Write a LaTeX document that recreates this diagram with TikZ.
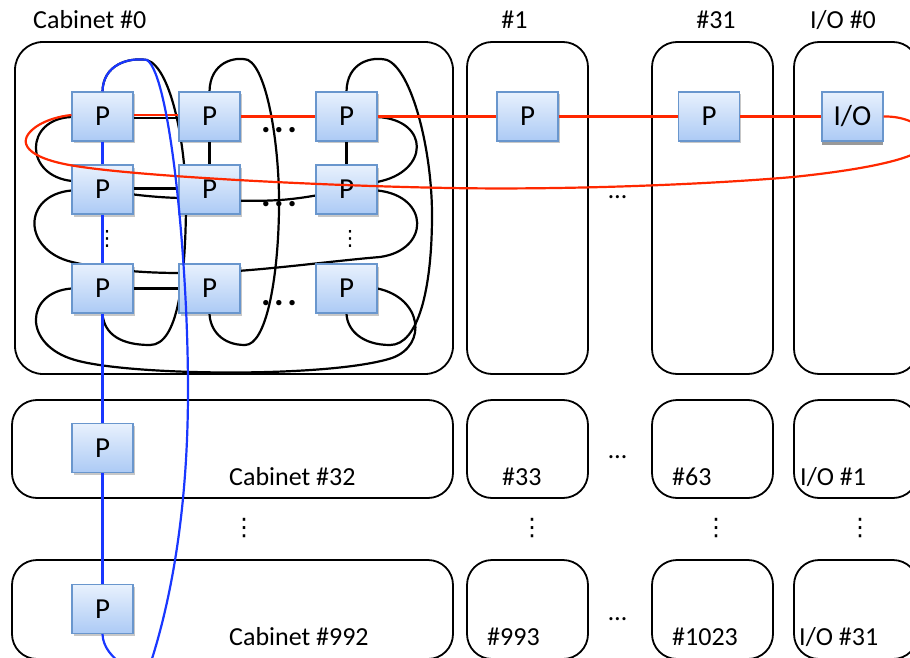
\documentclass[tikz,border=0pt]{standalone}
\usepackage{fontspec}
\setmainfont{Carlito}
\newfontfamily\symfont{DejaVu Sans}
\usetikzlibrary{shadows}
\definecolor{ptop}{RGB}{232,241,253}
\definecolor{pbot}{RGB}{172,202,245}
\definecolor{pedge}{RGB}{105,150,205}
\definecolor{ringred}{RGB}{255,40,0}
\definecolor{ringblue}{RGB}{25,55,255}
\pgfdeclarelayer{links}
\pgfsetlayers{links,main}
\begin{document}
\begin{tikzpicture}[x=1pt,y=-1pt,
  cabinet/.style={draw=black, line width=1.8pt, rounded corners=25pt},
  bigcabinet/.style={cabinet, rounded corners=28pt},
  boxbase/.style={draw=pedge, line width=1.1pt, top color=ptop, bottom color=pbot,
    minimum width=61pt, minimum height=49pt, inner sep=0pt,
    font=\fontsize{29}{30}\selectfont},
  pbox/.style={boxbase, drop shadow={shadow xshift=1.5pt, shadow yshift=-2.5pt, fill=black, opacity=0.22}},
  iobox/.style={boxbase, drop shadow={shadow xshift=0pt, shadow yshift=-4pt, fill=black!40, opacity=1}},
  link/.style={line width=2.2pt, black},
  redlink/.style={line width=2.2pt, ringred},
  bluelink/.style={line width=2.2pt, ringblue},
  lbl/.style={font=\fontsize{26}{30}\selectfont, inner sep=0pt},
  hdots/.style={font=\fontsize{26}{30}\selectfont, inner sep=0pt, anchor=base},
  bdots/.style={font=\fontsize{36}{40}\selectfont\bfseries, inner sep=0pt, anchor=base},
  vdotsnode/.style={font=\symfont\fontsize{24}{30}\selectfont, inner sep=0pt}]

\useasboundingbox (0,0) rectangle (910,658);
\clip (0,0) rectangle (910,658);

% processor grid of cabinet #0
\node[pbox] (g11) at (102.5,116.5) {P};
\node[pbox] (g12) at (209.5,116.5) {P};
\node[pbox] (g13) at (346.5,116.5) {P};
\node[pbox] (g21) at (102.5,189.5) {P};
\node[pbox] (g22) at (209.5,189.5) {P};
\node[pbox] (g23) at (346.5,189.5) {P};
\node[pbox] (g31) at (102.5,288.5) {P};
\node[pbox] (g32) at (209.5,288.5) {P};
\node[pbox] (g33) at (346.5,288.5) {P};
% first processors of the other cabinets
\node[pbox] (q1)  at (527.5,116.5) {P};
\node[pbox] (q31) at (709,116.5) {P};
\node[iobox] (io0) at (852.5,116.5) {I/O};
\node[pbox] (c32)  at (102.5,448) {P};
\node[pbox] (c992) at (102.5,609) {P};

\begin{pgfonlayer}{links}
  % cabinets
  \draw[bigcabinet] (15,42) rectangle (453,374);
  \draw[cabinet] (467,42) rectangle (588,374);
  \draw[cabinet] (652,42) rectangle (773,374);
  \draw[cabinet] (794,42) rectangle (918,374);
  \draw[cabinet] (12,400) rectangle (453,498);
  \draw[cabinet] (467,400) rectangle (588,498);
  \draw[cabinet] (652,400) rectangle (773,498);
  \draw[cabinet] (794,400) rectangle (918,498);
  \draw[cabinet] (12,560) rectangle (453,659);
  \draw[cabinet] (467,560) rectangle (588,659);
  \draw[cabinet] (652,560) rectangle (773,659);
  \draw[cabinet] (794,560) rectangle (918,659);

  % straight torus links
  \draw[link] ([yshift=-1.5pt]g11.east) -- ([yshift=-1.5pt]g12.west);
  \draw[link] ([yshift=1pt]g21.east) -- ([yshift=1pt]g22.west);
  \draw[link] (g31.east) -- (g32.west);
  \draw[link] (g11.south) -- (g21.north);
  \draw[link] (g12.south) -- (g22.north);
  \draw[link] (g13.south) -- (g23.north);

  % row wrap-around links
  \draw[link] ([yshift=-0.5pt]g11.west) .. controls (24,119) and (24,176) .. (72,181)
    .. controls (95,190) and (140,197) .. (180,198)
    .. controls (215,200) and (250,202) .. (280,200)
    .. controls (310,198) and (345,190) .. (377,182)
    .. controls (430,172) and (430,120) .. ([yshift=-0.5pt]g13.east);
  \draw[link] ([yshift=-1pt]g21.west) .. controls (22,195) and (22,250) .. (72,262)
    .. controls (110,271) and (150,273) .. (180,273)
    .. controls (240,274) and (320,262) .. (380,257)
    .. controls (430,250) and (430,196) .. ([yshift=-1pt]g23.east);
  \draw[link] (g31.west) .. controls (25,292) and (22,345) .. (75,360)
    .. controls (130,376) and (330,378) .. (392,358)
    .. controls (428,345) and (422,298) .. (g33.east);

  % column wrap-around links
  \draw[link] (g11.north) .. controls (103,65) and (128,57) .. (147,60)
    .. controls (172,68) and (187,150) .. (186,210)
    .. controls (185,280) and (178,345) .. (150,345)
    .. controls (122,345) and (104,335) .. (g31.south);
  \draw[link] (g12.north) .. controls (210,62) and (235,56) .. (248,60)
    .. controls (268,70) and (280,150) .. (279,210)
    .. controls (278,280) and (266,345) .. (245,345)
    .. controls (222,345) and (210,330) .. (g32.south);
  \draw[link] (g13.north) .. controls (347,62) and (372,56) .. (387,60)
    .. controls (412,70) and (432,150) .. (432,215)
    .. controls (432,290) and (418,345) .. (390,345)
    .. controls (362,345) and (347,330) .. (g33.south);
\end{pgfonlayer}

% ring through the first row of cabinets
\draw[redlink] ([yshift=1.5pt]g11.east) -- ([yshift=1.5pt]g12.west);
\draw[redlink] (g12.east) -- (g13.west);
\draw[redlink] (g13.east) -- (q1.west);
\draw[redlink] (q1.east) -- (q31.west);
\draw[redlink] (q31.east) -- (io0.west);
\draw[redlink] (io0.east) .. controls (905,116) and (925,125) .. (928,140)
  .. controls (930,155) and (880,168) .. (793,177)
  .. controls (700,185) and (560,190) .. (450,188)
  .. controls (330,186) and (150,177) .. (82,167)
  .. controls (30,160) and (18,145) .. (30,132)
  .. controls (40,121) and (60,116) .. ([yshift=1.5pt]g11.west);

% ring through the first column of cabinets
\draw[bluelink] (g11.south) -- (g21.north);
\draw[bluelink] (g21.south) -- (g31.north);
\draw[bluelink] (g31.south) -- (c32.north);
\draw[bluelink] (c32.south) -- (c992.north);
\draw[bluelink] (g11.north) .. controls (103,65) and (128,57) .. (147,60)
  .. controls (170,75) and (188,260) .. (188,390)
  .. controls (188,520) and (168,610) .. (150,665)
  .. controls (143,680) and (103,660) .. (c992.south);

% cabinet labels
\node[lbl, anchor=base west] (t0) at (33,29) {Cabinet \#0};
\node[lbl, anchor=base] (t1) at (514.5,29) {\#1};
\node[lbl, anchor=base] (t31) at (716,29) {\#31};
\node[lbl, anchor=base] (tio0) at (843,29) {I/O \#0};
\node[lbl, anchor=base west] (t32) at (229,485) {Cabinet \#32};
\node[lbl, anchor=base west] (t33) at (502,485) {\#33};
\node[lbl, anchor=base west] (t63) at (672,485) {\#63};
\node[lbl, anchor=base west] (tio1) at (800,485) {I/O \#1};
\node[lbl, anchor=base west] (t992) at (229,645) {Cabinet \#992};
\node[lbl, anchor=base west] (t993) at (487,645) {\#993};
\node[lbl, anchor=base west] (t1023) at (672,645) {\#1023};
\node[lbl, anchor=base west] (tio31) at (799,645) {I/O \#31};

% ellipses between cabinets
\node[hdots] (e1) at (617.5,198) {…};
\node[hdots] (e2) at (617.5,458) {…};
\node[hdots] (e3) at (617.5,620) {…};
\node[vdotsnode] (v1) at (244,528) {⋮};
\node[vdotsnode] (v2) at (532,528) {⋮};
\node[vdotsnode] (v3) at (716,528) {⋮};
\node[vdotsnode] (v4) at (860,528) {⋮};

% ellipses inside cabinet #0
\node[bdots] (b1) at (279,132) {.\hspace{3.5pt}.\hspace{3.5pt}.};
\node[bdots] (b2) at (279,206) {.\hspace{3.5pt}.\hspace{3.5pt}.};
\node[bdots] (b3) at (279,305) {.\hspace{3.5pt}.\hspace{3.5pt}.};
\node[vdotsnode, font=\symfont\fontsize{21}{24}\selectfont] (v5) at (107,239) {⋮};
\node[vdotsnode, font=\symfont\fontsize{21}{24}\selectfont] (v6) at (350,239) {⋮};
\end{tikzpicture}
\end{document}
